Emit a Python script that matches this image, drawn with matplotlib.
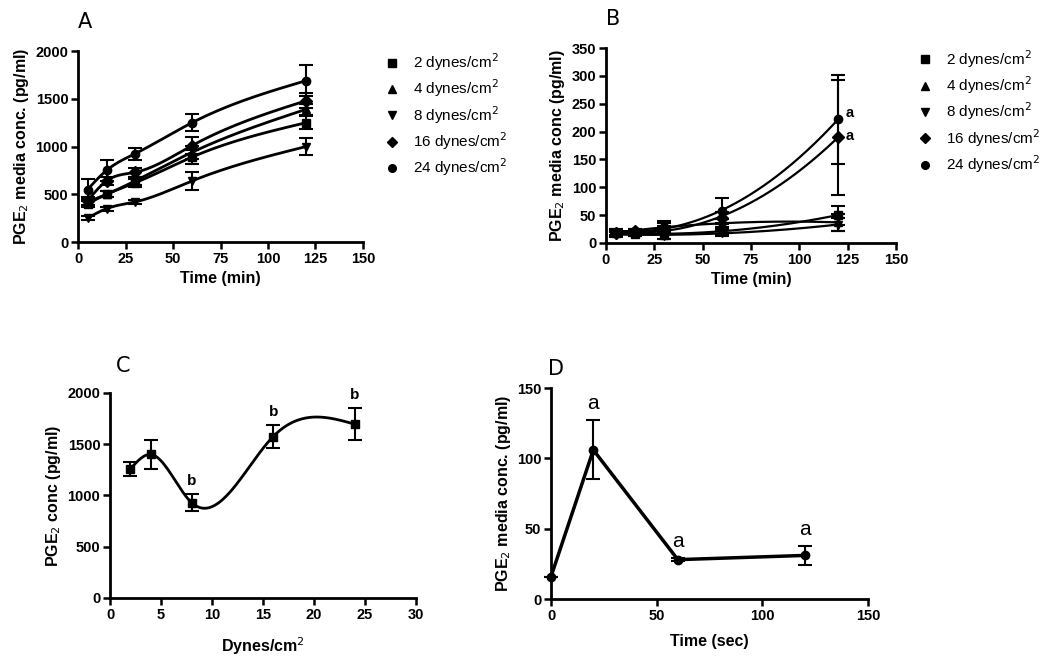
import matplotlib
matplotlib.use("Agg")
import matplotlib.pyplot as plt
import numpy as np

plt.rcParams['font.family'] = ['Liberation Sans', 'DejaVu Sans']

# ---- data ----
time_min = [5, 15, 30, 60, 120]
dyne_labels = ['2 dynes/cm$^2$', '4 dynes/cm$^2$', '8 dynes/cm$^2$',
               '16 dynes/cm$^2$', '24 dynes/cm$^2$']
dyne_markers = ['s', '^', 'v', 'D', 'o']

# panel A: PGE2 media conc. (pg/ml)
a_2 = [400, 500, 620, 890, 1250]
a_4 = [420, 500, 640, 940, 1390]
a_8 = [250, 350, 420, 640, 1000]
a_16 = [430, 640, 730, 1010, 1480]
a_24 = [550, 750, 925, 1250, 1690]
a_2_err = [30, 30, 40, 70, 70]
a_4_err = [30, 30, 40, 70, 60]
a_8_err = [20, 20, 20, 90, 85]
a_16_err = [40, 40, 50, 90, 80]
a_24_err = [110, 110, 65, 90, 160]

# panel B: PGE2 media conc (pg/ml)
b_2 = [18, 17, 15, 22, 50]
b_4 = [20, 20, 30, 35, 37]
b_8 = [15, 16, 13, 18, 33]
b_16 = [18, 22, 25, 45, 190]
b_24 = [20, 22, 28, 57, 222]
b_2_err = [6, 4, 8, 6, 17]
b_4_err = [6, 4, 10, 8, 15]
b_8_err = [5, 4, 6, 5, 12]
b_16_err = [5, 4, 6, 10, 103]
b_24_err = [5, 4, 8, 23, 80]

# panel C
c_dynes = [2, 4, 8, 16, 24]
c_conc = [1260, 1400, 930, 1575, 1695]
c_err = [70, 140, 80, 115, 155]
c_sig = ['', '', 'b', 'b', 'b']

# panel D
d_time = [0, 20, 60, 120]
d_conc = [16, 106, 28, 31]
d_err = [0, 21, 1, 7]
d_sig = ['', 'a', 'a', 'a']


def natural_spline(x, y, xs):
    x = np.asarray(x, float)
    y = np.asarray(y, float)
    n = len(x)
    h = np.diff(x)
    A = np.zeros((n, n))
    r = np.zeros(n)
    A[0, 0] = 1
    A[-1, -1] = 1
    for i in range(1, n - 1):
        A[i, i - 1] = h[i - 1]
        A[i, i] = 2 * (h[i - 1] + h[i])
        A[i, i + 1] = h[i]
        r[i] = 6 * ((y[i + 1] - y[i]) / h[i] - (y[i] - y[i - 1]) / h[i - 1])
    M = np.linalg.solve(A, r)
    out = np.empty_like(xs)
    for k, t in enumerate(xs):
        i = min(max(np.searchsorted(x, t) - 1, 0), n - 2)
        a = x[i + 1] - t
        b = t - x[i]
        out[k] = (M[i] * a ** 3 + M[i + 1] * b ** 3) / (6 * h[i]) \
            + (y[i] / h[i] - M[i] * h[i] / 6) * a \
            + (y[i + 1] / h[i] - M[i + 1] * h[i] / 6) * b
    return out


def style(ax):
    for s in ['top', 'right']:
        ax.spines[s].set_visible(False)
    for s in ['left', 'bottom']:
        ax.spines[s].set_linewidth(2)
    ax.tick_params(direction='out', length=5, width=1.8, labelsize=10.5, pad=2)
    for lab in ax.get_xticklabels() + ax.get_yticklabels():
        lab.set_fontweight('bold')


fig = plt.figure(figsize=(10.5, 6.65), dpi=100)
ekw = dict(ls='none', color='black', ms=6, capsize=5, elinewidth=1.5, capthick=1.5, clip_on=False)
leg_kw = dict(loc='upper left', frameon=False, fontsize=11, handletextpad=0.8,
              labelspacing=0.3, handlelength=1.2)

# ---- A ----
axA = fig.add_axes([0.0743, 0.636, 0.2714, 0.2872])
seriesA = [(a_2, a_2_err), (a_4, a_4_err), (a_8, a_8_err), (a_16, a_16_err), (a_24, a_24_err)]
xs = np.linspace(time_min[0], time_min[-1], 200)
for (vals, err), m, lab in zip(seriesA, dyne_markers, dyne_labels):
    axA.plot(xs, natural_spline(time_min, vals, xs), color='black', lw=2)
    axA.errorbar(time_min, vals, yerr=err, marker=m, label=lab, **ekw)
axA.set_xlim(0, 150)
axA.set_ylim(0, 2000)
axA.set_xticks(np.arange(0, 151, 25))
axA.set_yticks(np.arange(0, 2001, 500))
axA.set_xlabel('Time (min)', fontsize=11.5, fontweight='bold', labelpad=4)
axA.set_ylabel('PGE$_2$ media conc. (pg/ml)', fontsize=11.5, fontweight='bold', labelpad=3)
style(axA)
axA.text(0.0, 1.12, 'A', transform=axA.transAxes, fontsize=15, fontfamily='DejaVu Sans')
handles = [plt.Line2D([], [], ls='none', marker=m, color='black', ms=5.5) for m in dyne_markers]
axA.legend(handles, dyne_labels, bbox_to_anchor=(1.02, 1.07), **leg_kw)

# ---- B ----
axB = fig.add_axes([0.5771, 0.6346, 0.2762, 0.2932])
seriesB = [(b_2, b_2_err), (b_4, b_4_err), (b_8, b_8_err), (b_16, b_16_err), (b_24, b_24_err)]
for (vals, err), m, lab in zip(seriesB, dyne_markers, dyne_labels):
    coef = np.polyfit(time_min, vals, 2)
    axB.plot(xs, np.polyval(coef, xs), color='black', lw=1.6)
    axB.errorbar(time_min, vals, yerr=err, marker=m, label=lab, **ekw)
axB.text(time_min[-1] + 4, b_24[-1] + 12, 'a', fontsize=10.5, fontweight='bold', va='center')
axB.text(time_min[-1] + 4, b_16[-1] + 2, 'a', fontsize=10.5, fontweight='bold', va='center')
axB.set_xlim(0, 150)
axB.set_ylim(0, 350)
axB.set_xticks(np.arange(0, 151, 25))
axB.set_yticks(np.arange(0, 351, 50))
axB.set_xlabel('Time (min)', fontsize=11.5, fontweight='bold', labelpad=4)
axB.set_ylabel('PGE$_2$ media conc (pg/ml)', fontsize=11.5, fontweight='bold', labelpad=3)
style(axB)
axB.text(0.0, 1.12, 'B', transform=axB.transAxes, fontsize=15, fontfamily='DejaVu Sans')
axB.legend(handles, dyne_labels, bbox_to_anchor=(1.02, 1.07), **leg_kw)

# ---- C ----
axC = fig.add_axes([0.1048, 0.1008, 0.2914, 0.3083])
xc = np.linspace(c_dynes[0], c_dynes[-1], 300)
axC.plot(xc, natural_spline(c_dynes, c_conc, xc), color='black', lw=2)
axC.errorbar(c_dynes, c_conc, yerr=c_err, marker='s', **ekw)
for x, y, e, s in zip(c_dynes, c_conc, c_err, c_sig):
    if s:
        axC.text(x, y + e + 60, s, ha='center', va='bottom', fontsize=11, fontweight='bold')
axC.set_xlim(0, 30)
axC.set_ylim(0, 2000)
axC.set_xticks(np.arange(0, 31, 5))
axC.set_yticks(np.arange(0, 2001, 500))
axC.set_xlabel('Dynes/cm$^2$', fontsize=11.5, fontweight='bold', labelpad=10)
axC.set_ylabel('PGE$_2$ conc (pg/ml)', fontsize=11.5, fontweight='bold', labelpad=3)
style(axC)
axC.text(0.02, 1.1, 'C', transform=axC.transAxes, fontsize=15, fontfamily='DejaVu Sans')

# ---- D ----
axD = fig.add_axes([0.5248, 0.0992, 0.3019, 0.3173])
axD.plot(d_time, d_conc, color='black', lw=2.5)
axD.errorbar(d_time, d_conc, yerr=d_err, marker='o', **ekw)
for x, y, e, s in zip(d_time, d_conc, d_err, d_sig):
    if s:
        axD.text(x, y + e + 5, s, ha='center', va='bottom', fontsize=15)
axD.set_xlim(0, 150)
axD.set_ylim(0, 150)
axD.set_xticks(np.arange(0, 151, 50))
axD.set_yticks(np.arange(0, 151, 50))
axD.set_xlabel('Time (sec)', fontsize=11.5, fontweight='bold', labelpad=8)
axD.set_ylabel('PGE$_2$ media conc. (pg/ml)', fontsize=11.5, fontweight='bold', labelpad=3)
style(axD)
axD.text(-0.01, 1.06, 'D', transform=axD.transAxes, fontsize=15, fontfamily='DejaVu Sans')

fig.savefig('out.png', dpi=100)
